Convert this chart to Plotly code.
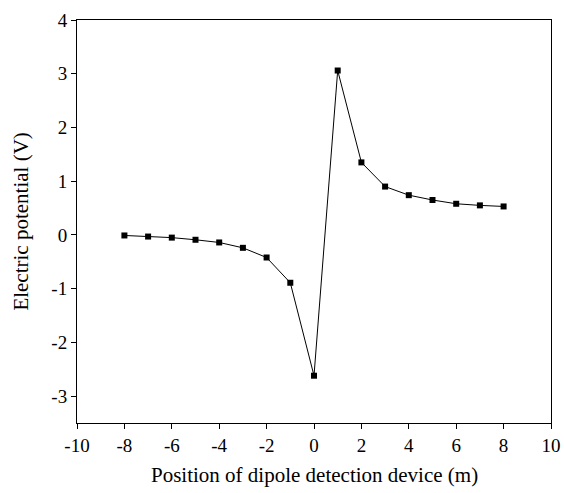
import plotly.graph_objects as go

positions = [-8, -7, -6, -5, -4, -3, -2, -1, 0, 1, 2, 3, 4, 5, 6, 7, 8]
potential = [-0.01, -0.03, -0.05, -0.09, -0.14, -0.24, -0.42, -0.89, -2.62,
             3.06, 1.35, 0.90, 0.74, 0.65, 0.58, 0.55, 0.53]
x_ticks = [-10, -8, -6, -4, -2, 0, 2, 4, 6, 8, 10]
x_labels = ["-10", "-8", "-6", "-4", "-2", "0", "2", "4", "6", "8", "10"]
y_ticks = [-3, -2, -1, 0, 1, 2, 3, 4]
y_labels = ["-3", "-2", "-1", "0", "1", "2", "3", "4"]

FONT = "Liberation Serif, Times New Roman, serif"

fig = go.Figure()
fig.add_trace(go.Scatter(
    x=positions, y=potential, mode="lines+markers",
    line=dict(color="black", width=1),
    marker=dict(symbol="square", size=6, color="black"),
    showlegend=False, cliponaxis=False,
))

fig.update_layout(
    width=564, height=493,
    margin=dict(l=77, r=13, t=20, b=70),
    paper_bgcolor="white", plot_bgcolor="white",
    font=dict(family=FONT, size=19, color="black"),
    xaxis=dict(range=[-10, 10], tickvals=x_ticks, ticktext=x_labels,
               ticks="outside", ticklen=5, automargin=False,
               ticklabeloverflow="allow",
               tickwidth=1, tickcolor="black", showline=True, linecolor="black",
               linewidth=1, mirror=True, showgrid=False, zeroline=False,
               tickfont=dict(size=19)),
    yaxis=dict(range=[-3.5, 4], tickvals=y_ticks, ticktext=y_labels,
               ticks="outside", ticklen=5, automargin=False,
               tickwidth=1, tickcolor="black", showline=True, linecolor="black",
               linewidth=1, mirror=True, showgrid=False, zeroline=False,
               tickfont=dict(size=19)),
    annotations=[
        dict(text="Position of dipole detection device (m)", xref="paper", yref="paper",
             x=0.5, y=-0.13, xanchor="center", yanchor="middle", showarrow=False,
             font=dict(size=21)),
        dict(text="Electric potential (V)", xref="paper", yref="paper",
             x=-0.12, y=0.5, xanchor="center", yanchor="middle", showarrow=False,
             textangle=-90, font=dict(size=21)),
    ],
)

fig.write_html("out.html", config={"displayModeBar": False},
               post_script="document.body.style.margin='0';document.body.style.overflow='hidden';")
